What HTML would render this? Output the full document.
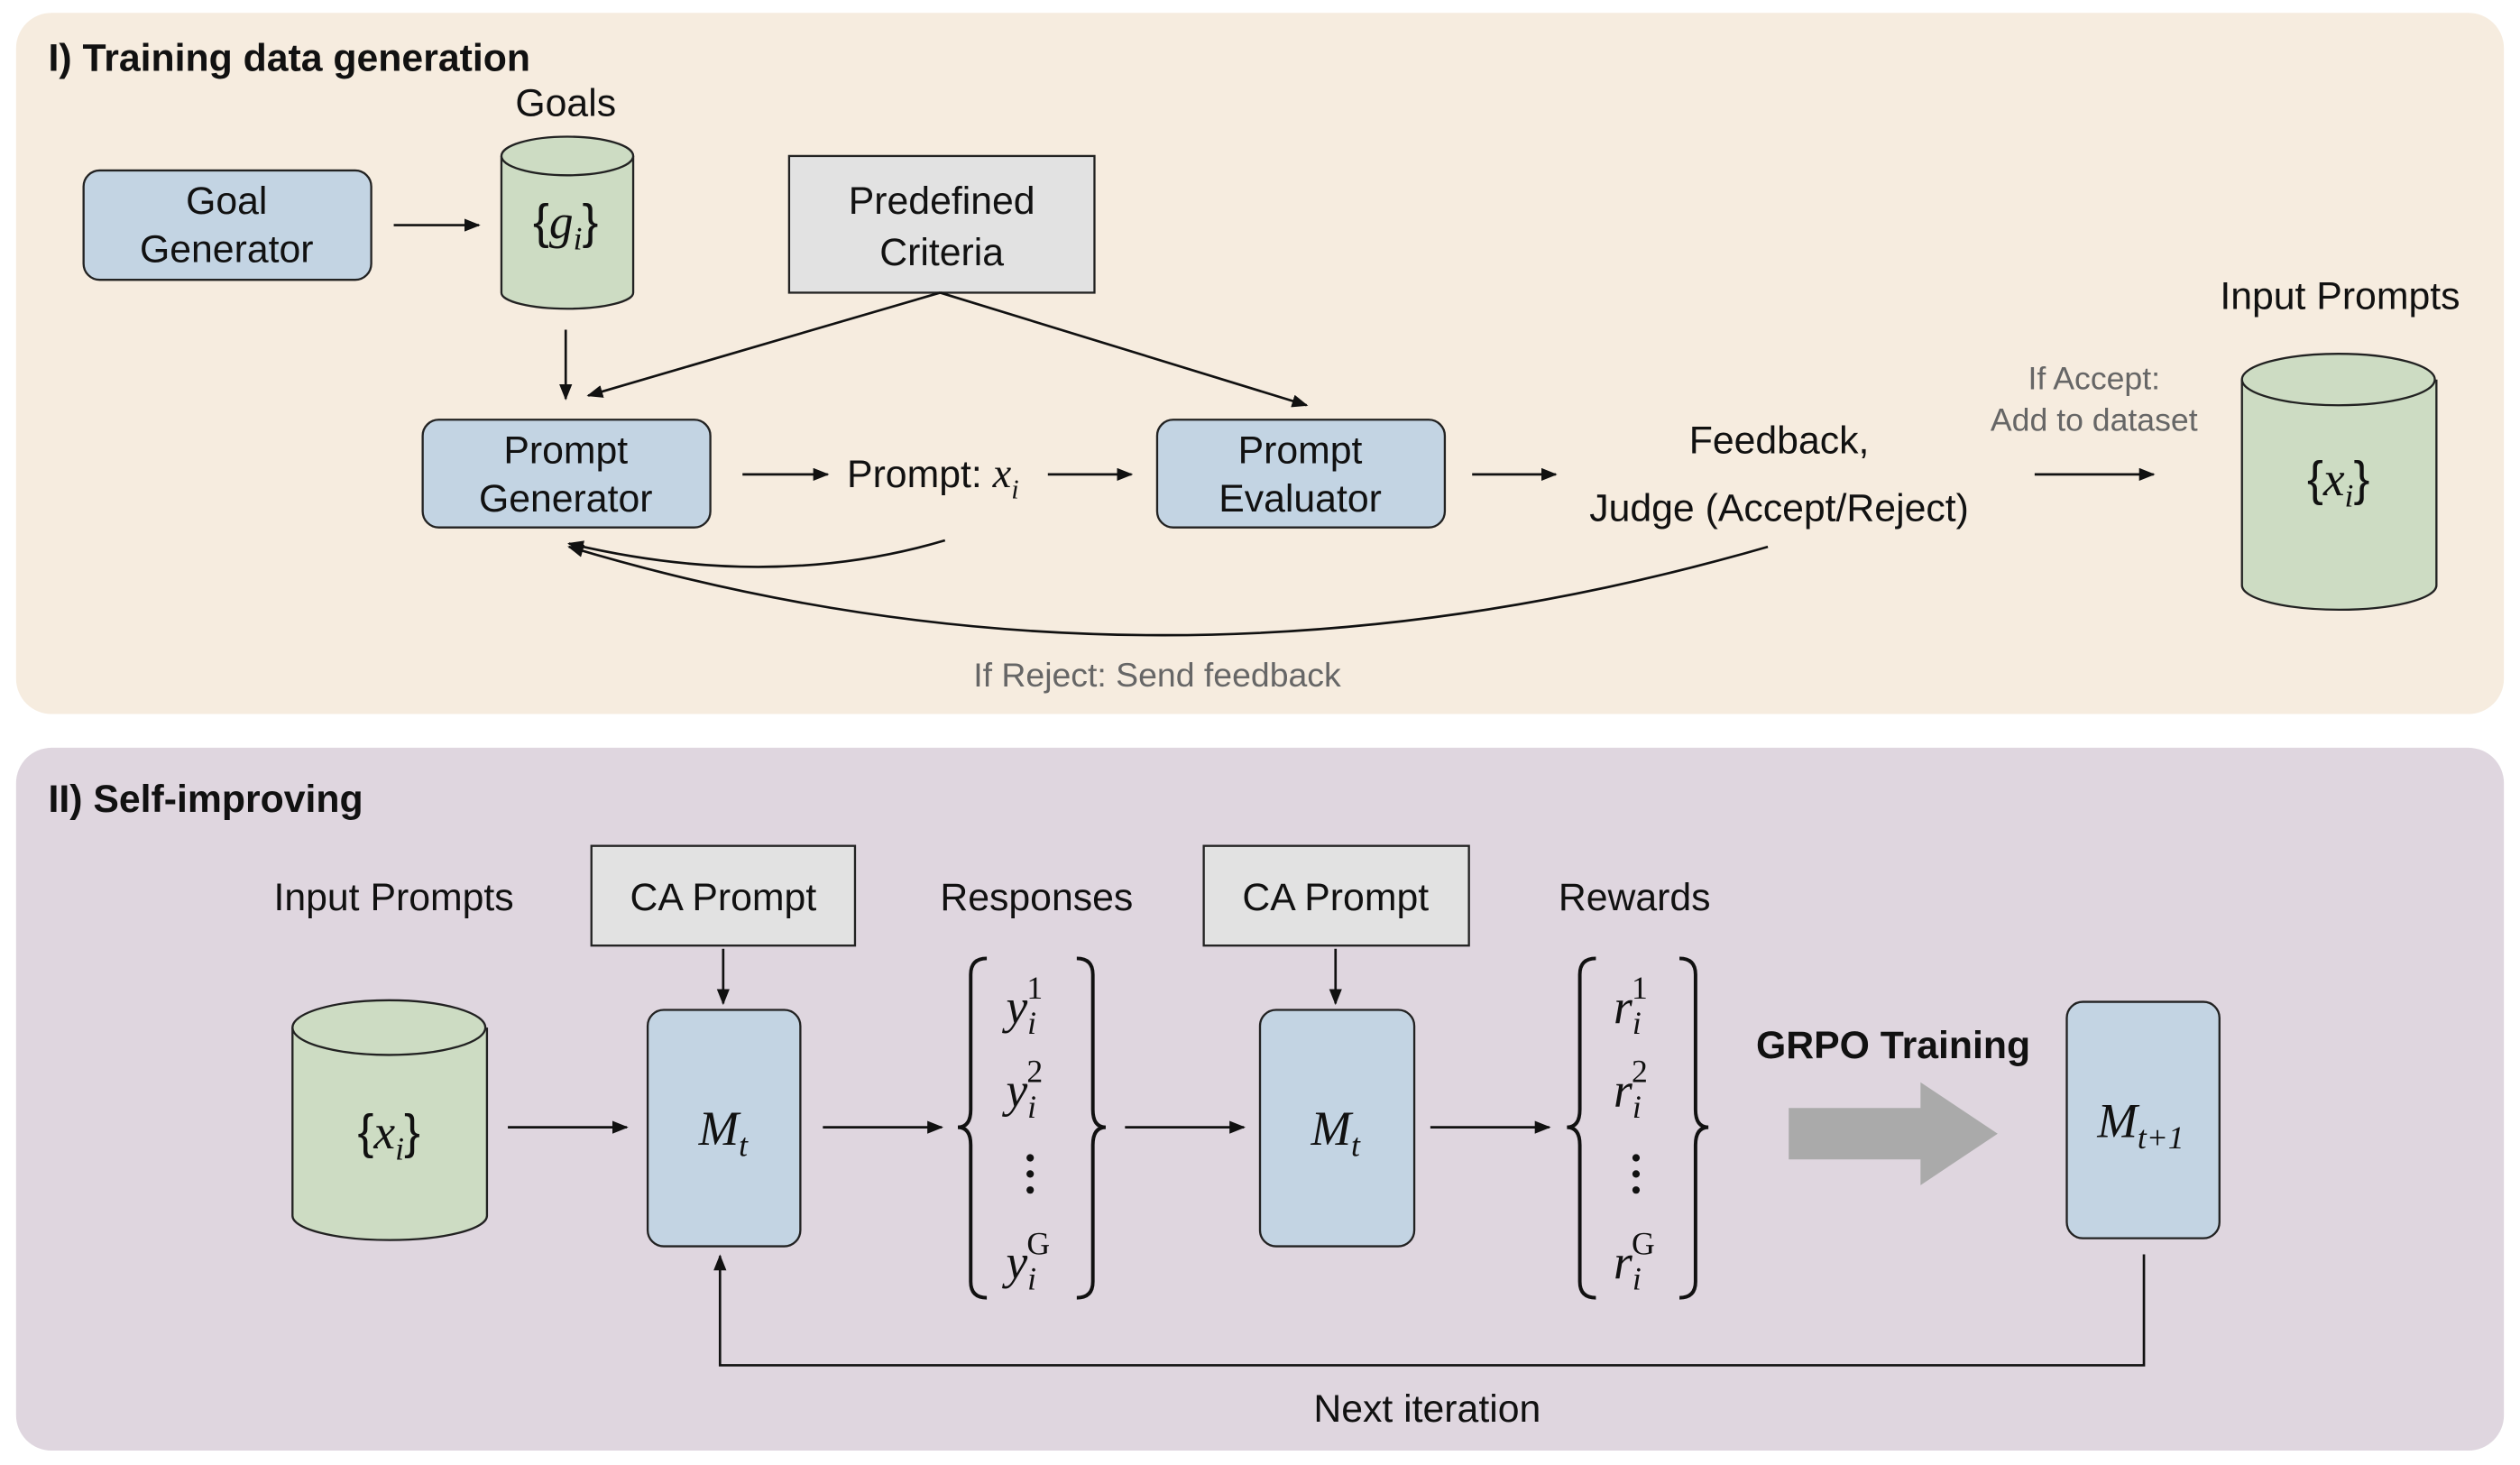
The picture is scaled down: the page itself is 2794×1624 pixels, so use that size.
<!DOCTYPE html>
<html><head><meta charset="utf-8"><style>
html,body{margin:0;padding:0;background:#fff;}
svg{display:block;}
text{font-family:"Liberation Sans",sans-serif;fill:#111;}
.m{font-family:"Liberation Serif",serif;font-style:italic;}
.u{font-style:normal;}
.g{fill:#666;}
</style></head><body>
<svg width="2794" height="1624" viewBox="0 0 1568 911" preserveAspectRatio="none" xmlns="http://www.w3.org/2000/svg">
<defs>
<marker id="a" markerWidth="10" markerHeight="8" refX="9" refY="4" orient="auto" markerUnits="userSpaceOnUse"><path d="M0,0 L10,4 L0,8 z" fill="#111"/></marker>
</defs>
<rect x="10" y="8" width="1548" height="436" rx="22" fill="#f6ecdf"/>
<rect x="10" y="465" width="1548" height="437" rx="22" fill="#dfd6df"/>
<text x="30" y="44" font-size="24" font-weight="bold">I) Training data generation</text>
<text x="30" y="505" font-size="24" font-weight="bold">II) Self-improving</text>

<g stroke="#222" stroke-width="1.3">
<rect x="52" y="106" width="179" height="68" rx="10" fill="#c3d4e3"/>
<rect x="263" y="261" width="179" height="67" rx="10" fill="#c3d4e3"/>
<rect x="720" y="261" width="179" height="67" rx="10" fill="#c3d4e3"/>
<rect x="491" y="97" width="190" height="85" fill="#e2e2e2"/>
<path d="M312,97 L312,182 A41,10 0 0 0 394,182 L394,97" fill="#cddcc3"/>
<ellipse cx="353" cy="97" rx="41" ry="12" fill="#cddcc3"/>
<path d="M1395,236 L1395,364 A60,15 0 0 0 1516,364 L1516,236" fill="#cddcc3"/>
<ellipse cx="1455" cy="236" rx="60" ry="16" fill="#cddcc3"/>
<path d="M182,639 L182,756 A60,15 0 0 0 303,756 L303,639" fill="#cddcc3"/>
<ellipse cx="242" cy="639" rx="60" ry="17" fill="#cddcc3"/>
<rect x="368" y="526" width="164" height="62" fill="#e2e2e2"/>
<rect x="749" y="526" width="165" height="62" fill="#e2e2e2"/>
<rect x="403" y="628" width="95" height="147" rx="10" fill="#c3d4e3"/>
<rect x="784" y="628" width="96" height="147" rx="10" fill="#c3d4e3"/>
<rect x="1286" y="623" width="95" height="147" rx="10" fill="#c3d4e3"/>
</g>

<g stroke="#111" stroke-width="1.5" fill="none" marker-end="url(#a)">
<line x1="245" y1="140" x2="298" y2="140"/>
<line x1="352" y1="205" x2="352" y2="248"/>
<line x1="585" y1="182" x2="366" y2="246"/>
<line x1="585" y1="182" x2="813" y2="252"/>
<line x1="462" y1="295" x2="515" y2="295"/>
<line x1="652" y1="295" x2="704" y2="295"/>
<line x1="916" y1="295" x2="968" y2="295"/>
<line x1="1266" y1="295" x2="1340" y2="295"/>
<path d="M588,336 Q480,368 354,338"/>
<path d="M1100,340 Q720,450 354,340"/>
<line x1="450" y1="590" x2="450" y2="624"/>
<line x1="831" y1="590" x2="831" y2="624"/>
<line x1="316" y1="701" x2="390" y2="701"/>
<line x1="512" y1="701" x2="586" y2="701"/>
<line x1="700" y1="701" x2="774" y2="701"/>
<line x1="890" y1="701" x2="964" y2="701"/>
<path d="M1334,780 L1334,849 L448,849 L448,781"/>
</g>
<polygon points="1113,689 1195,689 1195,673 1243,705 1195,737 1195,721 1113,721" fill="#aaaaaa"/>

<g font-size="24" text-anchor="middle">
<text x="141" y="133">Goal</text><text x="141" y="163">Generator</text>
<text x="352" y="72">Goals</text>
<text x="586" y="133">Predefined</text><text x="586" y="165">Criteria</text>
<text x="352" y="288">Prompt</text><text x="352" y="318">Generator</text>
<text x="809" y="288">Prompt</text><text x="809" y="318">Evaluator</text>
<text x="1107" y="282">Feedback,</text>
<text x="1107" y="324">Judge (Accept/Reject)</text>
<text x="1456" y="192">Input Prompts</text>
<text x="1303" y="242" font-size="20" class="g">If Accept:</text>
<text x="1303" y="268" font-size="20" class="g">Add to dataset</text>
<text x="720" y="427" font-size="21" class="g">If Reject: Send feedback</text>
<text x="245" y="566">Input Prompts</text>
<text x="450" y="566">CA Prompt</text>
<text x="645" y="566">Responses</text>
<text x="831" y="566">CA Prompt</text>
<text x="1017" y="566">Rewards</text>
<text x="1178" y="658" font-weight="bold">GRPO Training</text>
<text x="888" y="884">Next iteration</text>
</g>
<text x="527" y="303" font-size="24">Prompt: <tspan class="m" font-size="26">x</tspan><tspan class="m" font-size="17" dy="7">i</tspan></text>

<g font-family="Liberation Serif,serif" font-size="30" text-anchor="middle">
<text x="352" y="148">{<tspan class="m">g</tspan><tspan class="m" font-size="20" dy="7">i</tspan><tspan dy="-7">}</tspan></text>
<text x="1455" y="308">{<tspan class="m">x</tspan><tspan class="m" font-size="20" dy="7">i</tspan><tspan dy="-7">}</tspan></text>
<text x="242" y="714">{<tspan class="m">x</tspan><tspan class="m" font-size="20" dy="7">i</tspan><tspan dy="-7">}</tspan></text>
<text x="450" y="712" class="m">M<tspan font-size="20" dy="7">t</tspan></text>
<text x="831" y="712" class="m">M<tspan font-size="20" dy="7">t</tspan></text>
<text x="1332" y="707" class="m">M<tspan font-size="20" dy="7">t+1</tspan></text>
</g>

<g stroke="#111" stroke-width="2.2" fill="none">
<path d="M614,596 Q604,596 604,606 L604,690 Q604,701 596,701 Q604,701 604,712 L604,797 Q604,807 614,807"/>
<path d="M670,596 Q680,596 680,606 L680,690 Q680,701 688,701 Q680,701 680,712 L680,797 Q680,807 670,807"/>
<path d="M993,596 Q983,596 983,606 L983,690 Q983,701 975,701 Q983,701 983,712 L983,797 Q983,807 993,807"/>
<path d="M1045,596 Q1055,596 1055,606 L1055,690 Q1055,701 1063,701 Q1055,701 1055,712 L1055,797 Q1055,807 1045,807"/>
</g>
<g font-family="Liberation Serif,serif" font-size="30">
<text x="626" y="636" class="m">y<tspan font-size="20" dy="7">i</tspan><tspan class="u" font-size="20" dx="-6" dy="-22">1</tspan></text>
<text x="626" y="688" class="m">y<tspan font-size="20" dy="7">i</tspan><tspan class="u" font-size="20" dx="-6" dy="-22">2</tspan></text>
<text x="626" y="795" class="m">y<tspan font-size="20" dy="7">i</tspan><tspan class="u" font-size="20" dx="-6" dy="-22">G</tspan></text>
<text x="1004" y="636" class="m">r<tspan font-size="20" dy="7">i</tspan><tspan class="u" font-size="20" dx="-6" dy="-22">1</tspan></text>
<text x="1004" y="688" class="m">r<tspan font-size="20" dy="7">i</tspan><tspan class="u" font-size="20" dx="-6" dy="-22">2</tspan></text>
<text x="1004" y="795" class="m">r<tspan font-size="20" dy="7">i</tspan><tspan class="u" font-size="20" dx="-6" dy="-22">G</tspan></text>
</g>
<g fill="#111">
<circle cx="641" cy="720" r="2.3"/><circle cx="641" cy="730" r="2.3"/><circle cx="641" cy="740" r="2.3"/>
<circle cx="1018" cy="720" r="2.3"/><circle cx="1018" cy="730" r="2.3"/><circle cx="1018" cy="740" r="2.3"/>
</g>
</svg>
</body></html>
